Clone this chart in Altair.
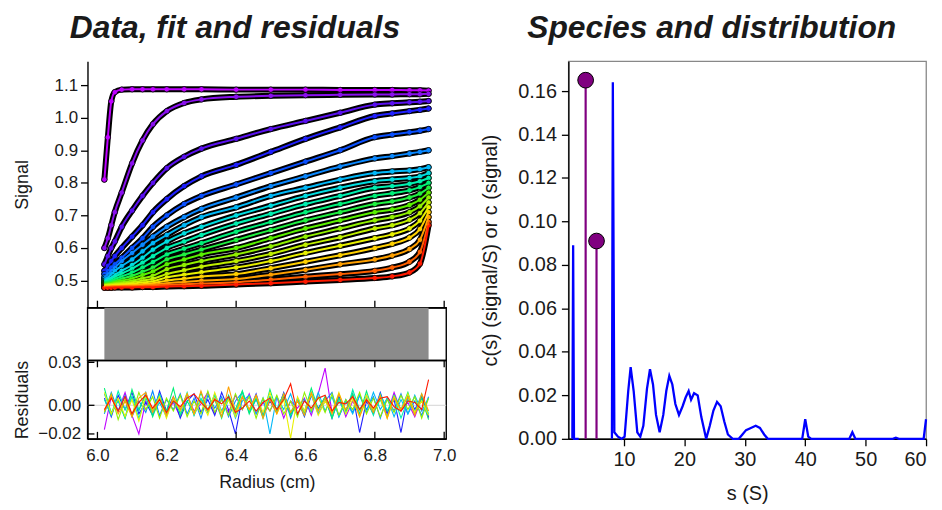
import altair as alt
import pandas as pd
import numpy as np

FONT = "Liberation Sans"
INK = "#1a1a1a"

# ---------------- data: sedimentation scans (signal vs radius) ----------------
radius_grid = [6.02, 6.03, 6.04, 6.05, 6.07, 6.10, 6.13, 6.16, 6.20, 6.25,
               6.30, 6.40, 6.50, 6.60, 6.70, 6.80, 6.85, 6.90, 6.93, 6.955]

scan01 = [0.81, 0.94, 1.05, 1.078, 1.086, 1.087, 1.087, 1.087, 1.087, 1.087, 1.087, 1.086, 1.086, 1.086, 1.085, 1.085, 1.085, 1.084, 1.084, 1.083]
scan02 = [0.60, 0.63, 0.67, 0.71, 0.77, 0.86, 0.93, 0.98, 1.02, 1.045, 1.056, 1.064, 1.067, 1.069, 1.070, 1.071, 1.071, 1.072, 1.072, 1.073]
scan03 = [0.55, 0.575, 0.60, 0.62, 0.665, 0.715, 0.76, 0.80, 0.845, 0.88, 0.905, 0.935, 0.965, 0.99, 1.015, 1.04, 1.044, 1.047, 1.049, 1.051]
scan04 = [0.53, 0.545, 0.56, 0.575, 0.60, 0.635, 0.67, 0.71, 0.75, 0.79, 0.82, 0.855, 0.895, 0.935, 0.97, 1.005, 1.013, 1.02, 1.024, 1.028]
scan05 = [0.52, 0.53, 0.54, 0.55, 0.57, 0.60, 0.63, 0.665, 0.70, 0.735, 0.76, 0.795, 0.83, 0.865, 0.90, 0.94, 0.948, 0.955, 0.96, 0.965]
scan06 = [0.51, 0.52, 0.53, 0.54, 0.56, 0.585, 0.61, 0.635, 0.665, 0.695, 0.72, 0.755, 0.79, 0.82, 0.85, 0.875, 0.882, 0.89, 0.895, 0.90]
scan07 = [0.505, 0.51, 0.52, 0.53, 0.545, 0.565, 0.59, 0.615, 0.64, 0.67, 0.695, 0.725, 0.76, 0.785, 0.81, 0.83, 0.835, 0.838, 0.842, 0.848]
scan08 = [0.50, 0.505, 0.51, 0.518, 0.53, 0.548, 0.57, 0.595, 0.62, 0.645, 0.665, 0.70, 0.73, 0.76, 0.785, 0.805, 0.81, 0.815, 0.82, 0.83]
scan09 = [0.498, 0.50, 0.505, 0.512, 0.522, 0.537, 0.555, 0.575, 0.60, 0.62, 0.64, 0.675, 0.705, 0.735, 0.76, 0.785, 0.79, 0.797, 0.805, 0.815]
scan10 = [0.495, 0.497, 0.50, 0.505, 0.513, 0.525, 0.54, 0.557, 0.58, 0.598, 0.615, 0.65, 0.68, 0.71, 0.735, 0.76, 0.768, 0.777, 0.787, 0.80]
scan11 = [0.493, 0.494, 0.497, 0.50, 0.506, 0.515, 0.527, 0.54, 0.565, 0.58, 0.595, 0.625, 0.655, 0.685, 0.71, 0.735, 0.743, 0.755, 0.767, 0.785]
scan12 = [0.49, 0.491, 0.493, 0.496, 0.50, 0.507, 0.517, 0.528, 0.55, 0.565, 0.58, 0.60, 0.63, 0.66, 0.685, 0.71, 0.718, 0.732, 0.748, 0.77]
scan13 = [0.488, 0.489, 0.49, 0.492, 0.495, 0.50, 0.507, 0.515, 0.535, 0.548, 0.56, 0.58, 0.605, 0.635, 0.66, 0.685, 0.695, 0.71, 0.728, 0.755]
scan14 = [0.486, 0.487, 0.488, 0.489, 0.491, 0.495, 0.50, 0.506, 0.52, 0.532, 0.543, 0.56, 0.582, 0.61, 0.633, 0.66, 0.67, 0.687, 0.707, 0.74]
scan15 = [0.485, 0.485, 0.486, 0.487, 0.488, 0.491, 0.494, 0.498, 0.51, 0.518, 0.526, 0.54, 0.56, 0.585, 0.607, 0.63, 0.642, 0.66, 0.684, 0.725]
scan16 = [0.483, 0.483, 0.484, 0.484, 0.485, 0.487, 0.489, 0.492, 0.50, 0.506, 0.512, 0.52, 0.538, 0.558, 0.578, 0.60, 0.613, 0.632, 0.658, 0.71]
scan17 = [0.482, 0.482, 0.482, 0.483, 0.483, 0.484, 0.486, 0.488, 0.492, 0.496, 0.50, 0.505, 0.518, 0.533, 0.55, 0.565, 0.577, 0.597, 0.625, 0.695]
scan18 = [0.48, 0.48, 0.481, 0.481, 0.482, 0.482, 0.483, 0.484, 0.487, 0.489, 0.491, 0.495, 0.503, 0.512, 0.52, 0.53, 0.54, 0.558, 0.588, 0.68]
scan19 = [0.478, 0.478, 0.478, 0.479, 0.479, 0.479, 0.48, 0.48, 0.482, 0.483, 0.484, 0.488, 0.492, 0.497, 0.502, 0.508, 0.513, 0.525, 0.552, 0.67]

scan_colors = ["#bf00ff", "#8a10ee", "#5a10f0", "#2020ff", "#0a50ff", "#0a88ff",
               "#00b8f8", "#00dde0", "#00f0b0", "#00f078", "#20f040", "#5af000",
               "#90f000", "#c0f000", "#e8f000", "#ffd000", "#ffa000", "#ff6000",
               "#ff1a00"]

# residuals (units of 1e-3 signal) for a selection of scans
res01 = [-17, 6, -4, 9, -7, -20, 3, -3, 8, -5, 2, -8, 7, -4, 1, 9, -6, 4, -5, 7, -3, 8, -6, 2, -4, 6, -9, 3, -2, 5, -7, 8, 26, -5, 6, -8, 3, -6, 7, -3, 5, -6, 9, -4, 2, -8, 5, -9]
res04 = [5, -8, 7, -3, 9, -6, 2, -7, 10, -4, 6, -9, 3, 8, -5, 4, -7, 9, -3, -20, 6, -4, 8, -7, 3, -5, 9, -6, 4, -8, 7, -2, 5, -9, 6, -4, 8, -19, 3, -6, 9, -5, 4, -19, 7, -3, 6, -8]
res06 = [-6, 9, -4, 7, -8, 3, -5, 10, -7, 4, -3, 8, -6, 5, -9, 7, -2, 6, -8, 3, 9, -5, 4, -7, 6, -3, 8, -9, 5, -4, 7, -6, 3, 9, -8, 4, -5, 7, -3, 6, -9, 5, -4, 8, -6, 3, -7, 6]
res07 = [8, -5, 3, -9, 6, -4, 9, -6, 2, -8, 5, -3, 7, -7, 4, -5, 8, -4, 6, -9, 3, 7, -6, 5, -20, 6, -3, 8, -7, 4, -5, 9, -4, 6, -8, 3, -6, 7, -5, 9, -3, 5, -8, 4, -6, 7, -4, 5]
res09 = [4, -7, 10, -3, 6, -9, 5, -4, 8, -6, 3, -5, 9, -7, 5, -3, 7, -8, 4, -6, 10, -4, 5, -9, 6, -3, 8, -5, 4, -7, 9, -4, 6, -8, 3, -6, 11, -3, 5, -7, 8, -4, 6, -9, 4, -5, 8, -6]
res10 = [12, -6, 4, -9, 11, -3, 7, -8, 5, -4, 12, -7, 3, -6, 9, -5, 4, -9, 7, -3, 10, -6, 5, -8, 11, -4, 6, -7, 3, -5, 12, -3, 6, -9, 5, -4, 8, -6, 10, -5, 4, -8, 7, -3, 9, -6, 5, -10]
res13 = [-5, 8, -10, 4, -7, 9, -3, 6, -9, 5, -4, 7, -8, 3, -6, 10, -5, 4, -7, 8, -3, 6, -9, 5, -4, 7, -6, 3, -8, 9, -4, 6, -5, 8, -7, 4, -3, 9, -6, 5, -8, 4, -5, 7, -3, 6, -9, 5]
res15 = [9, -6, 5, -8, 4, -11, 7, -3, 6, -9, 5, -4, 8, -6, 3, -7, 9, -5, 4, -8, 6, -3, 7, -5, 9, -6, 4, -23, 6, -4, 8, -7, 3, -5, 9, -6, 4, -8, 7, -3, 5, -9, 6, -4, 8, -5, 3, -7]
res17 = [-4, 7, -6, 3, -8, 5, 9, -5, 4, -7, 6, -3, 8, -6, 10, -4, 5, -8, 13, -5, 6, -3, 7, -9, 4, -6, 8, -5, 3, -7, 9, -4, 5, -6, 8, -3, 6, -8, 4, -5, 7, -9, 5, -3, 6, -7, 8, -4]
res19 = [-3, 5, -4, 6, -6, 2, 7, -2, 4, -5, 3, -1, 5, 8, 2, -3, 4, 1, 6, -5, -2, 3, -4, 2, 5, -3, 4, 15, -6, 3, -2, 5, 7, -4, 2, 1, 6, -3, 4, -2, 5, 6, -1, -4, 3, 2, -3, 18]

residual_map = {"s01": res01, "s04": res04, "s06": res06, "s07": res07, "s09": res09,
                "s10": res10, "s13": res13, "s15": res15, "s17": res17, "s19": res19}
residual_r_start, residual_r_end = 6.02, 6.955

gray_extent = [6.02, 6.955]  # residual bitmap extent (radius)

radius_ticks = [6.0, 6.2, 6.4, 6.6, 6.8, 7.0]
signal_ticks = [0.5, 0.6, 0.7, 0.8, 0.9, 1.0, 1.1]
residual_ticks = [-0.02, 0.0, 0.03]

# ---------------- data: c(s) distribution and discrete species ----------------
cs_low_s = [1.45, 1.58, 1.72, 2.5]
cs_low_c = [0.0, 0.089, 0.0, 0.0]
cs_s = [8.0, 8.15, 8.4, 9.0, 9.6, 10.1, 10.7, 11.1, 11.6, 12.2, 12.7, 13.2, 13.8, 14.3, 14.8,
        15.3, 15.9, 16.5, 17.0, 17.5, 18.0, 18.5, 19.1, 19.7, 20.2, 20.7, 21.1, 21.6, 22.2,
        22.8, 23.6, 24.2, 24.8, 25.4, 26.0, 26.6, 27.2, 28.0, 29.0, 29.6, 30.2, 31.0, 31.8,
        32.5, 33.2, 33.8, 39.5, 40.0, 40.5, 41.0, 47.3, 47.8, 48.3, 54.5, 55.0, 55.5, 59.6, 60.0]
cs_c = [0.0, 0.164, 0.003, 0.001, 0.0, 0.001, 0.022, 0.033, 0.022, 0.003, 0.001, 0.006, 0.023,
        0.032, 0.025, 0.011, 0.003, 0.011, 0.022, 0.029, 0.025, 0.016, 0.011, 0.015, 0.019,
        0.022, 0.018, 0.021, 0.020, 0.010, 0.0, 0.006, 0.013, 0.017, 0.015, 0.008, 0.002,
        0.0, 0.0, 0.002, 0.004, 0.005, 0.006, 0.005, 0.002, 0.0, 0.0, 0.009, 0.001, 0.0,
        0.0, 0.003, 0.0, 0.0, 0.0005, 0.0, 0.0, 0.009]
species_s = [3.65, 5.45]
species_c = [0.165, 0.091]
cs_ticks_x = [10, 20, 30, 40, 50, 60]
cs_ticks_y = [0.0, 0.02, 0.04, 0.06, 0.08, 0.10, 0.12, 0.14, 0.16]

# ---------------- tables ----------------
scans = [scan01, scan02, scan03, scan04, scan05, scan06, scan07, scan08, scan09, scan10,
         scan11, scan12, scan13, scan14, scan15, scan16, scan17, scan18, scan19]
scan_ids = [f"s{i + 1:02d}" for i in range(len(scans))]
fit_df = pd.DataFrame([{"scan": sid, "r": r, "signal": v}
                       for sid, vals in zip(scan_ids, scans)
                       for r, v in zip(radius_grid, vals)])
res_rows = []
for sid, vals in residual_map.items():
    radii = np.linspace(residual_r_start, residual_r_end, len(vals))
    for r, v in zip(radii, vals):
        res_rows.append({"scan": sid, "r": float(r), "res": v / 1000.0})
res_df = pd.DataFrame(res_rows)

color_scale = alt.Scale(domain=scan_ids, range=scan_colors)

# ---------------- geometry ----------------
W_L, H_TOP, H_MID, H_RES = 361, 248, 53, 79
W_R, H_R = 360, 380
TICK_IN = 7

x_scale_L = alt.Scale(domain=[5.9713, 7.0057], nice=False, zero=False)

# ---------------- top: data and fit ----------------
x_top = alt.X("r:Q", scale=x_scale_L,
              axis=alt.Axis(labels=False, ticks=False, title=None, domainColor="black", domainWidth=1.4))
y_top = alt.Y("signal:Q", scale=alt.Scale(domain=[0.417, 1.173], nice=False, zero=False),
              axis=alt.Axis(values=signal_ticks, format=".1f", title="Signal", titleX=-65,
                            titleBaseline="middle", tickSize=7, labelPadding=3,
                            labelFontSize=17, titleFontSize=18, domainColor="black", domainWidth=1.4))

under = alt.Chart(fit_df).mark_line(color="black", strokeWidth=6, strokeCap="round",
                                    strokeJoin="round", interpolate="monotone").encode(
    x=x_top, y=y_top, detail="scan:N")
pts = alt.Chart(fit_df).mark_circle(size=30, opacity=1, stroke="black", strokeWidth=0.8).encode(
    x=x_top, y=y_top, fill=alt.Fill("scan:N", scale=color_scale, legend=None))
fitl = alt.Chart(fit_df).mark_line(strokeWidth=2, interpolate="monotone").encode(
    x=x_top, y=y_top, color=alt.Color("scan:N", scale=color_scale, legend=None))
tick_df = pd.DataFrame({"r": radius_ticks})
top_ticks = alt.Chart(tick_df).mark_rule(color="black", strokeWidth=1.3).encode(
    x=x_top, y=alt.value(H_TOP - TICK_IN), y2=alt.value(H_TOP))

top = alt.layer(under, pts, fitl, top_ticks).properties(
    width=W_L, height=H_TOP, view=alt.ViewBackground(stroke="transparent"))

# ---------------- middle: residual bitmap ----------------
gray_df = pd.DataFrame({"r": [gray_extent[0]], "r2": [gray_extent[1]]})
mid = alt.Chart(gray_df).mark_rect(color="#8b8b8b").encode(
    x=alt.X("r:Q", scale=x_scale_L, axis=None), x2="r2:Q",
    y=alt.value(0), y2=alt.value(H_MID)
).properties(width=W_L, height=H_MID,
             view=alt.ViewBackground(stroke="black", strokeWidth=1.4))

# ---------------- bottom: residuals ----------------
x_res = alt.X("r:Q", scale=x_scale_L,
              axis=alt.Axis(values=radius_ticks, format=".1f", ticks=False, labelPadding=9,
                            labelFontSize=17, title="Radius (cm)", titleFontSize=18,
                            titlePadding=10, domainColor="black", domainWidth=1.4))
y_res = alt.Y("res:Q", scale=alt.Scale(domain=[-0.0234, 0.0314], nice=False, zero=False),
              axis=alt.Axis(values=residual_ticks, format=".2f", ticks=False, labelPadding=7,
                            labelFontSize=17, title="Residuals", titleX=-65,
                            titleBaseline="middle", titleFontSize=18,
                            domainColor="black", domainWidth=1.4))
zero_df = pd.DataFrame({"res": [0.0]})
zero_line = alt.Chart(zero_df).mark_rule(color="#d4d4d4", strokeWidth=1).encode(y=y_res)
res_lines = alt.Chart(res_df).mark_line(strokeWidth=1.1).encode(
    x=x_res, y=y_res, color=alt.Color("scan:N", scale=color_scale, legend=None))
res_xt_top = alt.Chart(tick_df).mark_rule(color="black", strokeWidth=1.3).encode(
    x=x_res, y=alt.value(0), y2=alt.value(TICK_IN))
res_xt_bot = alt.Chart(tick_df).mark_rule(color="black", strokeWidth=1.3).encode(
    x=x_res, y=alt.value(H_RES - TICK_IN), y2=alt.value(H_RES))
ytick_df = pd.DataFrame({"res": residual_ticks})
res_yt = alt.Chart(ytick_df).mark_rule(color="black", strokeWidth=1.3).encode(
    y=y_res, x=alt.value(0), x2=alt.value(TICK_IN))

bottom = alt.layer(zero_line, res_lines, res_xt_top, res_xt_bot, res_yt).properties(
    width=W_L, height=H_RES, view=alt.ViewBackground(stroke="black", strokeWidth=1.4))

title_kw = dict(fontSize=32, fontWeight="bold", fontStyle="italic", font=FONT,
                color=INK, anchor="middle", frame="bounds", offset=16)

left = alt.vconcat(top, mid, bottom, spacing=0, bounds="flush",
                   title=alt.Title("Data, fit and residuals", **title_kw))

# ---------------- right: species and distribution ----------------
cs_df = pd.concat([
    pd.DataFrame({"seg": "a", "s": cs_low_s, "c": cs_low_c}),
    pd.DataFrame({"seg": "b", "s": cs_s, "c": cs_c}),
])
sp_df = pd.DataFrame({"s": species_s, "c": species_c, "base": [0.0] * len(species_s)})

x_r = alt.X("s:Q", scale=alt.Scale(domain=[0.79, 60], nice=False, zero=False),
            axis=alt.Axis(values=cs_ticks_x, format="d", tickSize=7, labelPadding=4,
                          labelFontSize=20, title="s (S)", titleFontSize=20, titlePadding=14,
                          domainColor="black", domainWidth=1.4))
y_scale_r = alt.Scale(domain=[0, 0.1737], nice=False, zero=False)
y_axis_r = alt.Axis(values=cs_ticks_y, format=".2f", tickSize=7, labelPadding=5,
                    labelFontSize=20, title="c(s) (signal/S) or c (signal)", titleX=-78,
                    titleBaseline="middle", titleFontSize=20,
                    domainColor="black", domainWidth=1.4)
y_r = alt.Y("c:Q", scale=y_scale_r, axis=y_axis_r)

cs_line = alt.Chart(cs_df).mark_line(color="#0000ff", strokeWidth=2.3).encode(
    x=x_r, y=y_r, detail="seg:N", order="s:Q")
stems = alt.Chart(sp_df).mark_rule(color="#800080", strokeWidth=2.2).encode(
    x=x_r, y=alt.Y("base:Q", scale=y_scale_r, axis=y_axis_r), y2="c:Q")
heads = alt.Chart(sp_df).mark_circle(size=250, color="#800080", opacity=1,
                                     stroke="black", strokeWidth=1).encode(x=x_r, y=y_r)

right = alt.layer(cs_line, stems, heads).properties(
    width=W_R, height=H_R,
    title=alt.Title("Species and distribution", dx=6, **title_kw),
    view=alt.ViewBackground(stroke="#888888", strokeWidth=1.3))

chart = alt.hconcat(left, right, spacing=23).properties(
    padding={"left": 5, "top": 2, "right": 2, "bottom": 0}
).configure_axis(
    labelFont=FONT, titleFont=FONT, labelColor=INK, titleColor=INK,
    titleFontWeight="normal", tickColor="black", tickWidth=1.3, grid=False
).configure_view(stroke=None)

chart.save("out.html", embed_options={"renderer": "svg", "actions": False})
